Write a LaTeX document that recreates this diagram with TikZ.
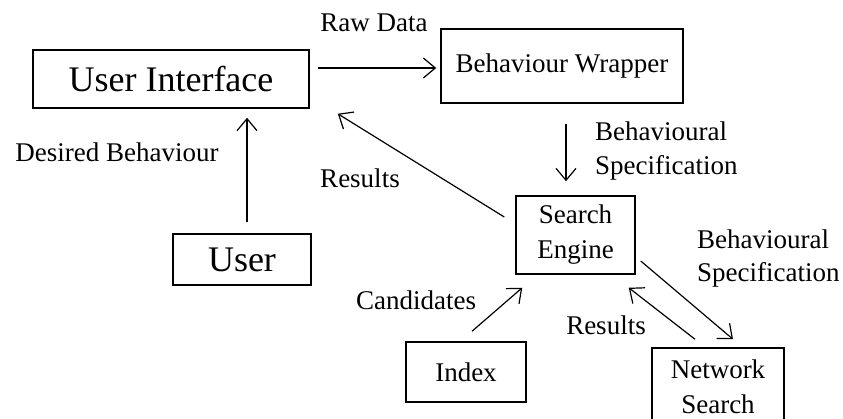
\documentclass[tikz,border=0pt]{standalone}
\usepackage{fontspec}
\setmainfont{Liberation Serif}
\usetikzlibrary{arrows.meta,calc}

\tikzset{
  box/.style={draw, line width=1.5pt, inner sep=0pt, align=center,
    font=\fontsize{27}{35}\selectfont},
  bigbox/.style={box, font=\fontsize{36}{40}\selectfont},
  lbl/.style={inner sep=0pt, font=\fontsize{27}{34}\selectfont},
  arr/.style={line width=1.2pt, -{Straight Barb[length=12pt,width=20pt,line width=1.2pt]}},
}

\begin{document}
\begin{tikzpicture}[x=1pt,y=-1pt]
  \useasboundingbox (0,0) rectangle (843,419);
  \clip (0,0) rectangle (843,419);

  % boxes
  \node[bigbox, minimum width=276pt, minimum height=58pt] (ui)   at (171,79)    {User Interface};
  \node[box,    minimum width=242pt, minimum height=74pt] (bw)   at (562,66)    {Behaviour Wrapper};
  \node[box,    minimum width=119pt, minimum height=78pt] (se)   at (575.5,235) {Search\\Engine};
  \node[bigbox, minimum width=138pt, minimum height=51pt] (user) at (242,259.5) {User};
  \node[box,    minimum width=120pt, minimum height=60pt] (idx)  at (466,372)   {Index};
  \node[box,    minimum width=132pt, minimum height=78pt] (ns)   at (718,387)   {Network\\Search};

  % connectors
  \draw[arr, shorten <=8pt, shorten >=4pt] ([yshift=-2pt]ui.east |- bw.west) -- ([yshift=-2pt]bw.west);
  \draw[arr, shorten <=11pt, shorten >=9pt] ([xshift=5pt]user.north) -- ([xshift=5pt]user.north |- ui.south);
  \draw[arr, shorten <=20pt, shorten >=14pt] ([xshift=4pt]bw.south) -- ([xshift=4pt]bw.south |- se.north);
  \draw[arr] ($(se.west)+(-11,-18)$) -- ($(ui.south east)+(28,5)$);
  \draw[arr] ($(idx.north)+(6,-10)$) -- ($(se.south west)+(7,13)$);
  \draw[arr] ($(se.east)+(5,26)$) -- ($(ns.north)+(15,-8)$);
  \draw[arr] ($(ns.north)+(-23,-8)$) -- ($(se.south east)+(-7,13)$);

  % connector labels
  \node[lbl, anchor=base] (lraw)  at (374,32)    {Raw Data};
  \node[lbl, anchor=base] (ldes)  at (117,161.7) {Desired Behaviour};
  \node[lbl, anchor=base] (lres1) at (360,188)   {Results};
  \node[lbl, anchor=west, align=left] (lspec1) at (595,151.4) {Behavioural\\Specification};
  \node[lbl, anchor=base] (lcand) at (416,310)   {Candidates};
  \node[lbl, anchor=west, align=left, font=\fontsize{27}{33}\selectfont] (lspec2) at (697,259) {Behavioural\\Specification};
  \node[lbl, anchor=base] (lres2) at (606,335)   {Results};
\end{tikzpicture}
\end{document}
